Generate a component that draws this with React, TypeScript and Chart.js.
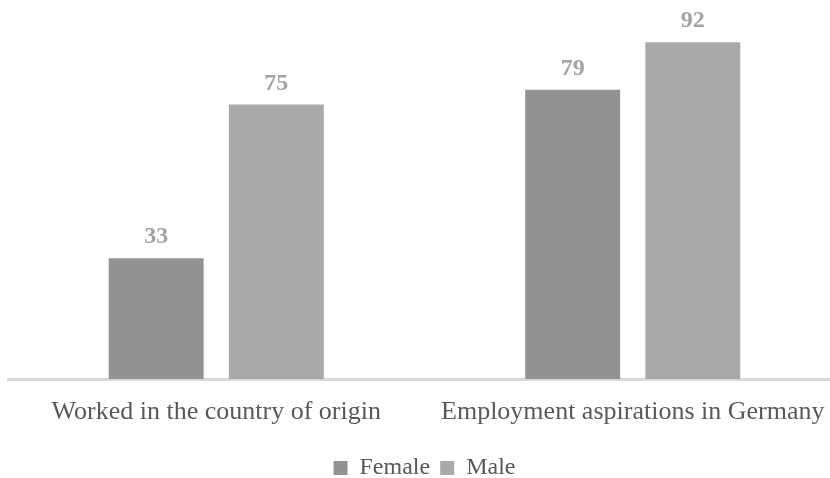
import React, { useEffect, useRef } from "react";
import { Chart, registerables } from "chart.js";

Chart.register(...registerables);

const categories = ["Worked in the country of origin", "Employment aspirations in Germany"];
const seriesNames = ["Female", "Male"];
const femaleValues = [33, 79];
const maleValues = [75, 92];
const yMin = 0;
const yMax = 100;

const FEMALE_COLOR = "#929292";
const MALE_COLOR = "#a9a9a9";
const SERIF = "'Liberation Serif', 'Times New Roman', serif";

const valueLabelPlugin = {
  id: "valueLabels",
  afterDatasetsDraw(chart: any) {
    const ctx = chart.ctx;
    ctx.save();
    ctx.font = `bold 24px ${SERIF}`;
    ctx.fillStyle = "#a3a3a3";
    ctx.textAlign = "center";
    ctx.textBaseline = "alphabetic";
    chart.data.datasets.forEach((ds: any, i: number) => {
      const meta = chart.getDatasetMeta(i);
      meta.data.forEach((bar: any, j: number) => {
        ctx.fillText(String(ds.data[j]), bar.x, bar.y - 15);
      });
    });
    ctx.restore();
  },
};

export default function App() {
  const ref = useRef<HTMLCanvasElement>(null);
  useEffect(() => {
    if (!ref.current) return;
    const chart = new Chart(ref.current, {
      type: "bar",
      data: {
        labels: categories,
        datasets: [
          {
            label: seriesNames[0],
            data: femaleValues,
            backgroundColor: FEMALE_COLOR,
            categoryPercentage: 0.577,
            barPercentage: 0.79,
          },
          {
            label: seriesNames[1],
            data: maleValues,
            backgroundColor: MALE_COLOR,
            categoryPercentage: 0.577,
            barPercentage: 0.79,
          },
        ],
      },
      options: {
        responsive: false,
        animation: false,
        layout: { padding: { left: 8, right: 15, top: 13, bottom: 0 } },
        plugins: {
          legend: {
            position: "bottom",
            labels: {
              boxWidth: 14,
              boxHeight: 14,
              padding: 10,
              color: "#595959",
              font: { family: SERIF, size: 24 },
            },
          },
          tooltip: { enabled: false },
        },
        scales: {
          x: {
            grid: { display: false },
            border: { display: true, color: "#d9d9d9", width: 3 },
            ticks: {
              color: "#595959",
              padding: 10,
              font: { family: SERIF, size: 26 },
              maxRotation: 0,
              autoSkip: false,
            },
            afterFit: (scale: any) => {
              scale.height = 67;
            },
          },
          y: {
            display: false,
            min: yMin,
            max: yMax,
          },
        },
      },
      plugins: [valueLabelPlugin],
    });
    return () => chart.destroy();
  }, []);
  return (
    <div
      style={{
        position: "fixed",
        left: 0,
        top: 0,
        width: 830,
        height: 478,
        overflow: "hidden",
        background: "#ffffff",
      }}
    >
      <canvas ref={ref} width={856} height={490} style={{ display: "block" }} />
    </div>
  );
}
